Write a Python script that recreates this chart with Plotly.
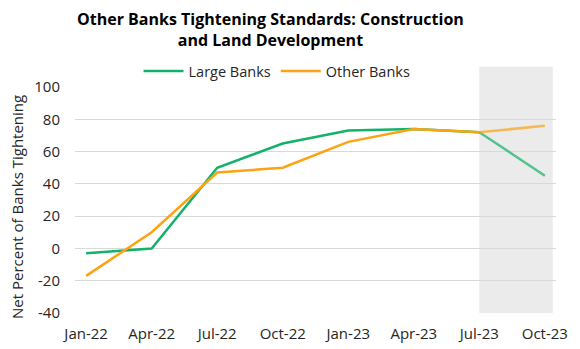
import plotly.graph_objects as go

categories = ["Jan-22", "Apr-22", "Jul-22", "Oct-22", "Jan-23", "Apr-23", "Jul-23", "Oct-23"]
large_banks = [-3, 0, 50, 65, 73, 74, 72, 45]
other_banks = [-17, 10, 47, 50, 66, 74, 72, 76]
y_ticks = [-40, -20, 0, 20, 40, 60, 80, 100]
y_tick_text = ["-40", "-20", "0", "20", "40", "60", "80", "100"]
forecast_start = 6  # index of Jul-23

GREEN = "#13b26b"
ORANGE = "#fca311"
FONT = "Open Sans"

x = list(range(len(categories)))
fig = go.Figure()

fig.add_shape(type="rect", xref="x", yref="paper", x0=forecast_start, x1=7.12,
              y0=0, y1=1.09, fillcolor="#ebebeb", line_width=0, layer="below")

fig.add_trace(go.Scatter(x=x[:forecast_start + 1], y=large_banks[:forecast_start + 1],
                         mode="lines", name="Large Banks",
                         line=dict(color=GREEN, width=2.5)))
fig.add_trace(go.Scatter(x=x[:forecast_start + 1], y=other_banks[:forecast_start + 1],
                         mode="lines", name="Other Banks",
                         line=dict(color=ORANGE, width=2.5)))
fig.add_trace(go.Scatter(x=x[forecast_start:], y=large_banks[forecast_start:],
                         mode="lines", showlegend=False, opacity=0.7,
                         line=dict(color=GREEN, width=2.5)))
fig.add_trace(go.Scatter(x=x[forecast_start:], y=other_banks[forecast_start:],
                         mode="lines", showlegend=False, opacity=0.7,
                         line=dict(color=ORANGE, width=2.5)))

fig.add_annotation(text="<b>Other Banks Tightening Standards: Construction<br>and Land Development</b>",
                   xref="paper", yref="paper", x=(270 - 75) / 481, y=(313 - 29) / 226,
                   xanchor="center", yanchor="middle", showarrow=False,
                   font=dict(family=FONT, size=16, color="#000000"))

fig.add_annotation(text="Net Percent of Banks Tightening", textangle=-90,
                   xref="paper", yref="paper", x=(17 - 75) / 481, y=(313 - 207) / 226,
                   xanchor="center", yanchor="middle", showarrow=False,
                   font=dict(family=FONT, size=15, color="#262626"))

fig.update_layout(
    width=580, height=349,
    margin=dict(l=75, r=24, t=87, b=36),
    paper_bgcolor="white", plot_bgcolor="white",
    font=dict(family=FONT, size=15, color="#262626"),
    legend=dict(orientation="h", x=0.42, xanchor="center", y=1.07, yanchor="middle",
                font=dict(size=14.5), itemwidth=40, bgcolor="rgba(0,0,0,0)",
                tracegroupgap=0),
    xaxis=dict(tickmode="array", tickvals=x, ticktext=categories,
               range=[-0.17, 7.17], showgrid=False, zeroline=False,
               showline=False, ticks="", tickfont=dict(size=15),
               ticklabelstandoff=10, automargin=False),
    yaxis=dict(range=[-40, 100], tickvals=y_ticks, ticktext=y_tick_text, showgrid=True,
               gridcolor="#d9d9d9", gridwidth=1, zeroline=False,
               showline=False, ticks="", tickfont=dict(size=15),
               ticklabelstandoff=14, automargin=False),
)

fig.write_html("out.html")
